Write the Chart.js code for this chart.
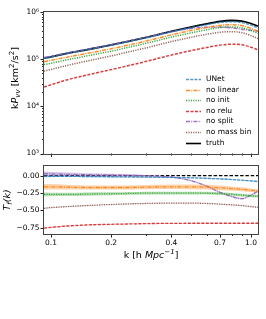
<!DOCTYPE html>
<html><head><meta charset="utf-8">
<script src="https://cdn.jsdelivr.net/npm/chart.js@4/dist/chart.umd.min.js"></script>
<style>
html,body{margin:0;padding:0;background:#fff;width:266px;height:319px;overflow:hidden}
#cA{position:absolute;left:0;top:0}
#cB{position:absolute;left:0;top:160px}
</style></head><body>
<canvas id="cA" width="266" height="160"></canvas>
<canvas id="cB" width="266" height="159"></canvas>
<script>
// ---------- data ----------
const kValues = [0.0923,0.1,0.12,0.15,0.2,0.25,0.3,0.4,0.5,0.6,0.7,0.8,0.9,1.0,1.084];

// top panel: k P_vv
const truthP    = [1.05e5,1.12e5,1.32e5,1.58e5,2.0e5,2.45e5,2.9e5,3.9e5,4.8e5,5.6e5,6.3e5,6.6e5,6.4e5,5.7e5,5.0e5];
const unetP     = [1.04e5,1.109e5,1.307e5,1.561e5,1.97e5,2.406e5,2.842e5,3.803e5,4.656e5,5.387e5,6.017e5,6.237e5,5.984e5,5.273e5,4.575e5];
const noLinearP = [0.882e5,0.941e5,1.102e5,1.311e5,1.66e5,2.034e5,2.422e5,3.276e5,4.032e5,4.676e5,5.198e5,5.379e5,5.152e5,4.503e5,3.9e5];
const noInitP   = [0.767e5,0.818e5,0.964e5,1.161e5,1.48e5,1.825e5,2.175e5,2.925e5,3.6e5,4.189e5,4.675e5,4.831e5,4.608e5,4.047e5,3.525e5];
const noReluP   = [0.257e5,0.286e5,0.363e5,0.458e5,0.60e5,0.747e5,0.899e5,1.221e5,1.512e5,1.764e5,1.985e5,2.079e5,2.016e5,1.796e5,1.575e5];
const noSplitP  = [1.082e5,1.148e5,1.346e5,1.604e5,2.02e5,2.462e5,2.9e5,3.822e5,4.464e5,4.76e5,4.788e5,4.62e5,4.288e5,4.104e5,3.9e5];
const noMassBinP= [0.557e5,0.605e5,0.733e5,0.901e5,1.17e5,1.458e5,1.74e5,2.36e5,2.904e5,3.36e5,3.717e5,3.828e5,3.648e5,3.164e5,2.725e5];

// bottom panel: T_f(k)
const truthT    = [0,0,0,0,0,0,0,0,0,0,0,0,0,0,0];
const unetT     = [-0.01,-0.01,-0.01,-0.012,-0.015,-0.018,-0.02,-0.025,-0.03,-0.038,-0.045,-0.055,-0.065,-0.075,-0.085];
const noLinearT = [-0.16,-0.16,-0.165,-0.17,-0.17,-0.17,-0.165,-0.16,-0.16,-0.165,-0.175,-0.185,-0.195,-0.21,-0.22];
const noInitT   = [-0.27,-0.27,-0.27,-0.265,-0.26,-0.255,-0.25,-0.25,-0.25,-0.252,-0.258,-0.268,-0.28,-0.29,-0.295];
const noReluT   = [-0.755,-0.745,-0.725,-0.71,-0.70,-0.695,-0.69,-0.687,-0.685,-0.685,-0.685,-0.685,-0.685,-0.685,-0.685];
const noSplitT  = [0.03,0.025,0.02,0.015,0.01,0.005,0,-0.02,-0.07,-0.15,-0.24,-0.30,-0.33,-0.28,-0.22];
const noMassBinT= [-0.47,-0.46,-0.445,-0.43,-0.415,-0.405,-0.40,-0.395,-0.395,-0.40,-0.41,-0.42,-0.43,-0.445,-0.455];

// scatter (1 sigma) of T_f(k)
const unetErr     = [0.012,0.012,0.01,0.01,0.01,0.009,0.008,0.008,0.008,0.008,0.008,0.008,0.008,0.008,0.008];
const noLinearErr = [0.042,0.04,0.035,0.03,0.028,0.028,0.03,0.033,0.035,0.035,0.033,0.03,0.028,0.026,0.025];
const noInitErr   = [0.028,0.026,0.024,0.022,0.02,0.02,0.02,0.02,0.02,0.02,0.02,0.02,0.02,0.02,0.02];
const noReluErr   = [0.006,0.006,0.006,0.005,0.005,0.005,0.005,0.005,0.005,0.005,0.005,0.005,0.005,0.005,0.005];
const noSplitErr  = [0.03,0.028,0.025,0.022,0.018,0.015,0.012,0.01,0.01,0.01,0.01,0.01,0.01,0.01,0.01];
const noMassBinErr= [0.006,0.006,0.006,0.005,0.005,0.005,0.005,0.005,0.005,0.005,0.005,0.005,0.005,0.005,0.005];

const seriesNames = ['UNet','no linear','no init','no relu','no split','no mass bin','truth'];

const xTickValues = [0.1,0.2,0.4,0.7,1.0];
const xTickLabels = ['0.1','0.2','0.4','0.7','1.0'];
const xMinorTicks = [0.3,0.5,0.6,0.8,0.9];
const yTopTickValues = [1e3,1e4,1e5,1e6];
const yTopTickLabels = ['10\u00b3','10\u2074','10\u2075','10\u2076'];
const yBotTickValues = [0,-0.25,-0.5,-0.75];
const yBotTickLabels = ['0.00','\u22120.25','\u22120.50','\u22120.75'];

// ---------- styles ----------
const lineColors = ['rgba(31,119,180,0.75)','rgba(255,127,14,0.9)','rgba(44,160,44,0.9)','rgba(214,39,40,0.9)','rgba(148,103,189,0.9)','rgba(140,86,75,0.9)','#000'];
const dashes = [[3,1.2],[4,1.2,1,1.2],[1.2,1.2],[3,1.5],[4,1.2,1,1.2],[1.2,1.2],[]];
const bandColors = ['rgba(31,119,180,0.35)','rgba(255,127,14,0.35)','rgba(44,160,44,0.35)','rgba(214,39,40,0.3)','rgba(148,103,189,0.4)','rgba(140,86,75,0.3)'];
const FONT = 'DejaVu Sans';

const topSeries = [unetP,noLinearP,noInitP,noReluP,noSplitP,noMassBinP,truthP];
const botSeries = [unetT,noLinearT,noInitT,noReluT,noSplitT,noMassBinT];
const botErr = [unetErr,noLinearErr,noInitErr,noReluErr,noSplitErr,noMassBinErr];

const pts = arr => kValues.map((k,i)=>({x:k,y:arr[i]}));

// ---------- helpers ----------
function drawRich(ctx, parts, x, y, rot) {
  ctx.save();
  ctx.translate(x, y);
  if (rot) ctx.rotate(rot);
  let w = 0;
  for (const p of parts) { ctx.font = (p.it?'italic ':'') + p.s + 'px ' + FONT; p.w = ctx.measureText(p.t).width; w += p.w; }
  let cx = -w/2;
  ctx.fillStyle = '#000'; ctx.textBaseline = 'middle'; ctx.textAlign = 'left';
  for (const p of parts) { ctx.font = (p.it?'italic ':'') + p.s + 'px ' + FONT; ctx.fillText(p.t, cx, p.dy||0); cx += p.w; }
  ctx.restore();
}

function framePlugin(opts) {
  return {
    id: 'frameTicks',
    afterDatasetsDraw(chart) {
      const ctx = chart.ctx, a = chart.chartArea;
      ctx.save();
      ctx.strokeStyle = '#222'; ctx.lineWidth = 1;
      const xs = chart.scales.x, ys = chart.scales.y;
      ctx.beginPath();
      for (const t of xs.ticks) {
        const px = Math.round(xs.getPixelForValue(t.value)) + 0.5;
        const len = t.major ? 3.5 : 2;
        ctx.moveTo(px, a.bottom); ctx.lineTo(px, a.bottom + len);
      }
      for (const t of ys.ticks) {
        const py = Math.round(ys.getPixelForValue(t.value)) + 0.5;
        const len = t.major ? 3.5 : 2;
        ctx.moveTo(a.left, py); ctx.lineTo(a.left - len, py);
      }
      ctx.stroke();
      ctx.strokeStyle = '#444';
      ctx.strokeRect(Math.round(a.left) - 0.5, Math.round(a.top) - 0.5, Math.round(a.right - a.left) + 1, Math.round(a.bottom - a.top) + 1);
      ctx.restore();
      if (opts.after) opts.after(chart);
    }
  };
}

// ---------- top chart ----------
const topDatasets = topSeries.map((arr,i)=>({
  label: seriesNames[i], data: pts(arr),
  borderColor: lineColors[i], borderDash: dashes[i],
  borderWidth: i===6 ? 1.8 : 1.5, pointRadius: 0, fill: false,
  cubicInterpolationMode: 'monotone'
}));

new Chart(document.getElementById('cA'), {
  type: 'line',
  data: { datasets: topDatasets },
  options: {
    responsive: false, animation: false, devicePixelRatio: 1,
    layout: { padding: { left: 0, right: 8, top: 12, bottom: 0 } },
    plugins: { legend: { display: false }, tooltip: { enabled: false } },
    scales: {
      x: {
        type: 'logarithmic', min: 0.0923, max: 1.084,
        grid: { display: false, drawTicks: true, tickLength: 3 },
        border: { display: false },
        ticks: { display: false, autoSkip: false },
        afterBuildTicks: s => { s.ticks = [0.1,0.2,0.3,0.4,0.5,0.6,0.7,0.8,0.9,1.0].map(v=>({value:v, major: v===0.1||v===1.0})); },
        afterFit: s => { s.height = 6; }
      },
      y: {
        type: 'logarithmic', min: 1e3, max: 1e6,
        grid: { display: false, drawTicks: true, tickLength: 3 },
        border: { display: false },
        ticks: {
          autoSkip: false, padding: 2, color: '#000', font: { family: FONT, size: 7.5 },
          callback: v => { const i = yTopTickValues.indexOf(v); return i >= 0 ? yTopTickLabels[i] : ''; }
        },
        afterBuildTicks: s => {
          const t = [];
          for (let e = 3; e <= 6; e++) {
            t.push({ value: Math.pow(10, e), major: true });
            if (e < 6) for (let m = 2; m <= 9; m++) t.push({ value: m * Math.pow(10, e), major: false });
          }
          s.ticks = t;
        },
        afterFit: s => { s.width = 44; }
      }
    }
  },
  plugins: [framePlugin({
    after(chart) {
      const ctx = chart.ctx;
      drawRich(ctx, [
        {t:'k', s:9.5}, {t:'P', s:9.5, it:true}, {t:'vv', s:7, it:true, dy:2.5},
        {t:' [km', s:9.5}, {t:'2', s:7, dy:-3.5}, {t:'/s', s:9.5}, {t:'2', s:7, dy:-3.5}, {t:']', s:9.5}
      ], 16, 78, -Math.PI/2);
      ctx.save();
      const x0 = 186, x1 = 201, tx = 206;
      const rowsY = [79, 89.6, 100.2, 110.8, 121.4, 132, 142.6];
      ctx.font = '7.5px ' + FONT; ctx.textBaseline = 'middle'; ctx.fillStyle = '#000';
      seriesNames.forEach((n,i)=>{
        const y = Math.round(rowsY[i]) + 0.5;
        ctx.strokeStyle = lineColors[i]; ctx.lineWidth = i===6 ? 1.6 : 1.3;
        ctx.setLineDash(dashes[i]);
        ctx.beginPath(); ctx.moveTo(x0, y); ctx.lineTo(x1, y); ctx.stroke();
        ctx.setLineDash([]);
        ctx.fillText(n, tx, rowsY[i]);
      });
      ctx.restore();
    }
  })]
});

// ---------- bottom chart ----------
const botDatasets = [];
botSeries.forEach((arr,i)=>{
  const err = botErr[i];
  botDatasets.push({ label: seriesNames[i]+' lo', data: pts(arr.map((v,j)=>v-err[j])), borderWidth: 0, pointRadius: 0, fill: false, cubicInterpolationMode: 'monotone' });
  botDatasets.push({ label: seriesNames[i]+' hi', data: pts(arr.map((v,j)=>v+err[j])), borderWidth: 0, pointRadius: 0, fill: '-1', backgroundColor: bandColors[i], cubicInterpolationMode: 'monotone' });
});
botSeries.forEach((arr,i)=>{
  botDatasets.push({ label: seriesNames[i], data: pts(arr), borderColor: lineColors[i], borderDash: dashes[i], borderWidth: 1.3, pointRadius: 0, fill: false, cubicInterpolationMode: 'monotone' });
});
botDatasets.push({ label: 'truth', data: pts(truthT), borderColor: '#000', borderDash: [3.5,1.8], borderWidth: 1.2, pointRadius: 0, fill: false });

new Chart(document.getElementById('cB'), {
  type: 'line',
  data: { datasets: botDatasets },
  options: {
    responsive: false, animation: false, devicePixelRatio: 1,
    layout: { padding: { left: 0, right: 8, top: 5, bottom: 0 } },
    plugins: { legend: { display: false }, tooltip: { enabled: false }, filler: { propagate: false } },
    scales: {
      x: {
        type: 'logarithmic', min: 0.0923, max: 1.084,
        grid: { display: false, drawTicks: true, tickLength: 3 },
        border: { display: false },
        ticks: {
          autoSkip: false, maxRotation: 0, padding: 2, color: '#000', font: { family: FONT, size: 7.5 },
          callback: v => { const i = xTickValues.indexOf(v); return i >= 0 ? xTickLabels[i] : ''; }
        },
        afterBuildTicks: s => {
          const t = xTickValues.map(v=>({value:v, major:true})).concat(xMinorTicks.map(v=>({value:v, major:false})));
          t.sort((a,b)=>a.value-b.value);
          s.ticks = t;
        },
        afterFit: s => { s.height = 85; }
      },
      y: {
        type: 'linear', min: -0.84, max: 0.14,
        grid: { display: false, drawTicks: true, tickLength: 3 },
        border: { display: false },
        ticks: {
          autoSkip: false, padding: 1.5, color: '#000', font: { family: FONT, size: 7.5 },
          callback: v => { const i = yBotTickValues.indexOf(v); return i >= 0 ? yBotTickLabels[i] : ''; }
        },
        afterBuildTicks: s => { s.ticks = yBotTickValues.map(v=>({value:v, major:true})); },
        afterFit: s => { s.width = 44; }
      }
    }
  },
  plugins: [framePlugin({
    after(chart) {
      const ctx = chart.ctx;
      drawRich(ctx, [
        {t:'T', s:9.5, it:true}, {t:'f', s:7, it:true, dy:2.5}, {t:'(k)', s:9.5, it:true}
      ], 8, 40, -Math.PI/2);
      drawRich(ctx, [
        {t:'k [h ', s:9.5}, {t:'Mpc', s:9.5, it:true}, {t:'\u22121', s:7, it:true, dy:-3.5}, {t:']', s:9.5}
      ], 151, 96, 0);
    }
  })]
});
</script>
</body></html>
